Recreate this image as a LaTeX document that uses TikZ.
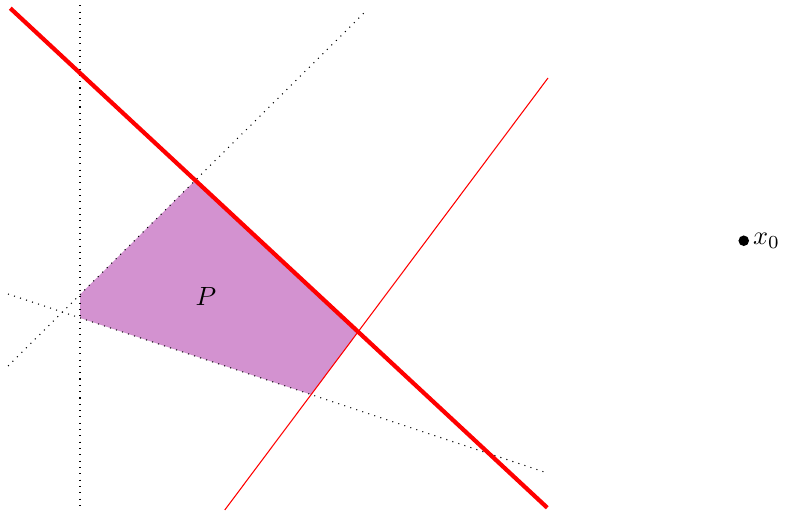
\documentclass[tikz,border=0pt]{standalone}
\definecolor{polyfill}{RGB}{211,146,208}
\begin{document}
\begin{tikzpicture}[every node/.style={font=\normalsize}]
    \useasboundingbox (-1.067,-2.587) rectangle (9.4,4.24);
    % boundary lines of the half-planes
    \coordinate (v1) at (0,4.17);       \coordinate (v2) at (0,-2.52);
    \coordinate (a1) at (-0.96,-0.64);  \coordinate (a2) at (3.83,4.11);
    \coordinate (b1) at (-0.96,0.32);   \coordinate (b2) at (6.24,-2.07);
    \coordinate (r1) at (-0.93,4.13);   \coordinate (r2) at (6.23,-2.53);
    \coordinate (s1) at (1.93,-2.56);   \coordinate (s2) at (6.24,3.2);
    \coordinate (x0) at (8.85,1.03);
    % the polygon P
    \fill[polyfill] (intersection of v1--v2 and a1--a2)
        -- (intersection of a1--a2 and r1--r2)
        -- (intersection of r1--r2 and s1--s2)
        -- (intersection of s1--s2 and b1--b2)
        -- (intersection of b1--b2 and v1--v2) -- cycle;
    \node (P) at (1.68,0.29) {$P$};
    \draw[dotted] (v1) -- (v2);
    \draw[dotted] (a1) -- (a2);
    \draw[dotted] (b1) -- (b2);
    \draw[red,thin] (s1) -- (s2);
    \draw[red,ultra thick] (r1) -- (r2);
    \fill (x0) circle[radius=2pt];
    \node[right] (x0lab) at (x0) {$x_0$};
\end{tikzpicture}
\end{document}
